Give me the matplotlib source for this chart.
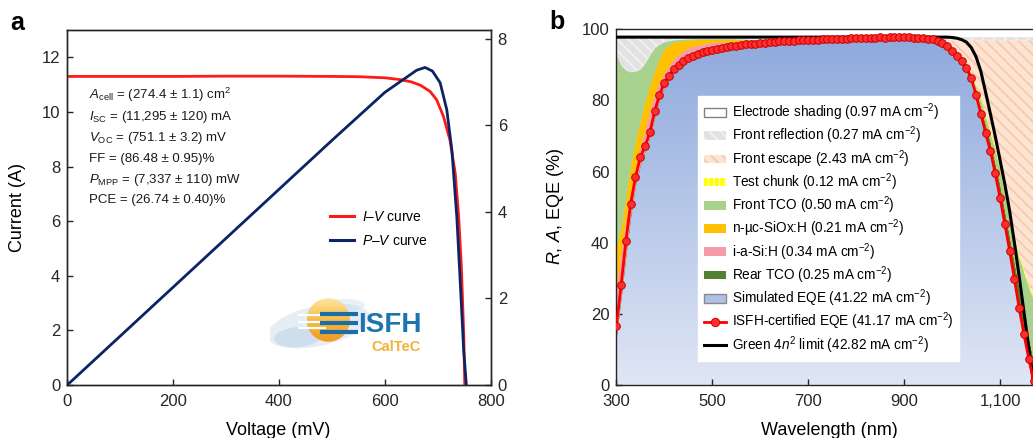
import numpy as np
import matplotlib
matplotlib.use('Agg')
import matplotlib.pyplot as plt
from matplotlib.patches import Patch, Circle, Ellipse
from matplotlib.lines import Line2D
from matplotlib.colors import LinearSegmentedColormap

plt.rcParams['font.family'] = ['Liberation Sans', 'DejaVu Sans']
plt.rcParams['mathtext.fontset'] = 'custom'
plt.rcParams['mathtext.rm'] = 'Liberation Sans'
plt.rcParams['mathtext.it'] = 'Liberation Sans:italic'
plt.rcParams['mathtext.bf'] = 'Liberation Sans:bold'
plt.rcParams['hatch.linewidth'] = 1.2

# ---------------- panel a data ----------------
iv_v = [0, 100, 200, 300, 400, 500, 550, 600, 630, 650, 667, 680, 686, 698, 711, 723, 733, 739.5, 744.6, 749, 751]
iv_i = [11.30, 11.30, 11.30, 11.31, 11.31, 11.30, 11.29, 11.25, 11.18, 11.10, 10.98, 10.82, 10.74, 10.44,
        9.82, 8.97, 7.75, 6.16, 4.33, 1.89, 0.0]
pv_v = [0, 100, 200, 300, 400, 500, 600, 640, 660, 676, 690, 704.5, 717, 726.6, 736, 742.6, 749, 754]
pv_p = [0, 1.13, 2.26, 3.39, 4.52, 5.65, 6.76, 7.10, 7.27, 7.335, 7.25, 6.98, 6.36, 5.43, 3.88, 2.34, 0.79, 0.0]
params_text = [r'$A_{\rm cell}$ = (274.4 ± 1.1) cm$^2$',
               r'$I_{\rm SC}$ = (11,295 ± 120) mA',
               r'$V_{\rm OC}$ = (751.1 ± 3.2) mV',
               'FF = (86.48 ± 0.95)%',
               r'$P_{\rm MPP}$ = (7,337 ± 110) mW',
               'PCE = (26.74 ± 0.40)%']

# ---------------- panel b data ----------------
wl_s = [300, 310, 320, 330, 340, 350, 360, 370, 380, 390, 400, 420, 440, 460, 500, 600, 700, 800, 900, 950,
        980, 1000, 1020, 1040, 1060, 1080, 1100, 1120, 1140, 1160, 1170]
sim_eqe = [14.0, 25.0, 37.0, 48.0, 56.5, 62.0, 66.0, 70.0, 75.5, 80.5, 84.0, 88.3, 90.6, 92.2, 94.0, 95.8, 96.6,
           97.0, 97.2, 96.9, 95.7, 93.6, 90.6, 85.8, 75.8, 65.3, 52.2, 37.3, 21.1, 7.0, 1.0]
rear_tco = [0, 0, 0, 0, 0, 0, 0, 0, 0, 0, 0, 0, 0, 0, 0, 0, 0, 0, 0, 0,
            0.1, 0.2, 0.4, 0.8, 2.5, 3.2, 4.3, 4.7, 6.4, 6.5, 6.0]
i_asi = [13.0, 12.5, 10.0, 6.5, 5.0, 5.0, 6.0, 7.5, 6.5, 5.0, 3.8, 3.5, 3.4, 3.1, 2.4, 0.9, 0.4, 0.15, 0.05, 0,
         0, 0, 0, 0, 0, 0, 0, 0, 0, 0, 0]
n_sio = [12.0, 7.0, 6.0, 7.5, 7.5, 7.5, 8.0, 7.0, 6.5, 6.5, 6.8, 4.7, 2.9, 1.8, 0.85, 0.3, 0.15, 0.05, 0, 0,
         0, 0, 0, 0, 0, 0, 0, 0, 0, 0, 0]
front_tco = [53.8, 45.5, 35.5, 26.0, 19.2, 14.3, 10.5, 8.3, 6.3, 3.8, 1.9, 0.5, 0.3, 0.2, 0.15, 0.1, 0.1, 0.1,
             0.1, 0.2, 0.2, 0.4, 0.6, 1.0, 2.2, 2.5, 4.5, 5.5, 8.5, 14.0, 17.0]
test_chunk = [0, 0, 0, 0, 0, 0, 0, 0, 0, 0, 0, 0, 0, 0, 0, 0, 0, 0, 0, 0,
              0.2, 0.4, 0.5, 0.6, 0.7, 0.8, 0.8, 0.8, 0.8, 0.8, 0.8]
front_escape = [0, 0, 0, 0, 0, 0, 0, 0, 0, 0, 0, 0, 0, 0, 0, 0, 0.05, 0.1, 0.1, 0.2,
                0.7, 2.3, 4.8, 8.7, 15.7, 25.1, 35.1, 48.6, 60.1, 68.6, 72.1]
front_refl = [5.0, 7.8, 9.3, 9.8, 9.6, 9.0, 7.3, 5.0, 3.0, 2.0, 1.3, 0.8, 0.6, 0.5, 0.4, 0.7, 0.5, 0.4, 0.35, 0.5,
              0.9, 0.9, 0.9, 0.9, 0.9, 0.9, 0.9, 0.9, 0.9, 0.9, 0.9]
shading = [2.2] * 31

wl_g = [300, 400, 600, 800, 990, 1000, 1010, 1020, 1030, 1040, 1050, 1060, 1070, 1080, 1090, 1100, 1110, 1120,
        1130, 1140, 1150, 1160, 1170]
green_lim = [97.8, 97.8, 97.8, 97.8, 97.8, 97.7, 97.5, 97.1, 96.4, 94.9, 92.3, 88.2, 82.3, 76.2, 70.0, 63.3, 56.5,
             49.0, 40.0, 30.5, 20.5, 10.5, 0.5]

wl_eqe = list(range(300, 1171, 10))
eqe_isfh = [16.5, 28.0, 40.5, 51.0, 58.5, 64.0, 67.2, 71.0, 77.0, 81.5, 85.0, 87.0, 88.8, 90.0, 91.0, 91.8, 92.5,
            93.1, 93.6, 94.0, 94.3, 94.6, 94.8, 95.0, 95.2, 95.4, 95.6, 95.8, 95.9, 96.0, 96.1, 96.2, 96.3, 96.5,
            96.6, 96.7, 96.8, 96.8, 96.9, 97.0, 97.1, 97.0, 97.1, 97.2, 97.3, 97.3, 97.3, 97.4, 97.4, 97.5, 97.5,
            97.5, 97.6, 97.6, 97.6, 97.7, 97.6, 97.7, 97.8, 97.7, 97.7, 97.7, 97.6, 97.6, 97.5, 97.4, 97.2, 96.8,
            96.1, 95.3, 94.0, 92.5, 91.0, 89.2, 86.3, 81.6, 76.3, 70.8, 65.8, 59.5, 52.7, 45.3, 37.8, 29.8, 21.6,
            14.2, 7.4, 1.2]

legend_labels = [r'Electrode shading (0.97 mA cm$^{-2}$)',
                 r'Front reflection (0.27 mA cm$^{-2}$)',
                 r'Front escape (2.43 mA cm$^{-2}$)',
                 r'Test chunk (0.12 mA cm$^{-2}$)',
                 r'Front TCO (0.50 mA cm$^{-2}$)',
                 r'n-µc-SiOx:H (0.21 mA cm$^{-2}$)',
                 r'i-a-Si:H (0.34 mA cm$^{-2}$)',
                 r'Rear TCO (0.25 mA cm$^{-2}$)',
                 r'Simulated EQE (41.22 mA cm$^{-2}$)',
                 r'ISFH-certified EQE (41.17 mA cm$^{-2}$)',
                 r'Green 4$n^2$ limit (42.82 mA cm$^{-2}$)']

# ---------------- figure ----------------
W, H = 1033, 438
fig = plt.figure(figsize=(W / 100, H / 100), dpi=100)


def px_axes(x0, y0, x1, y1):
    return fig.add_axes([x0 / W, 1 - y1 / H, (x1 - x0) / W, (y1 - y0) / H])


TICK_FS = 12
LAB_FS = 13
spine_c = '#262626'

# ===== panel a =====
axa = px_axes(67.3, 30, 490.7, 385)
axr = axa.twinx()
axa.plot(iv_v, iv_i, color='#ff1a1a', lw=2.0, zorder=3, solid_capstyle='butt')
axr.plot(pv_v, pv_p, color='#0c2466', lw=2.0, zorder=3)
axa.set_xlim(0, 800)
axa.set_ylim(0, 13)
axr.set_ylim(0, 8.2)
axa.set_xticks([0, 200, 400, 600, 800])
axa.set_yticks([0, 2, 4, 6, 8, 10, 12])
axr.set_yticks([0, 2, 4, 6, 8])
for ax in (axa, axr):
    ax.tick_params(direction='in', length=4, width=1, labelsize=TICK_FS, pad=5, colors=spine_c)
    for s in ax.spines.values():
        s.set_linewidth(1.0)
        s.set_color(spine_c)
axa.tick_params(axis='x', pad=6.5)
axa.set_xlabel('Voltage (mV)', fontsize=LAB_FS)
axa.xaxis.set_label_coords(0.498, -0.103)
axa.set_ylabel('Current (A)', fontsize=LAB_FS)
axa.yaxis.set_label_coords(-0.0975, 0.4986)

y0 = (385 - 99) / 355
dy = 20.9 / 355
for k, t in enumerate(params_text):
    axa.text(0.051, y0 - k * dy, t, transform=axa.transAxes, fontsize=9.5, va='baseline', ha='left',
             color='#1a1a1a')

ha = [Line2D([], [], color='#ff1a1a', lw=2.2), Line2D([], [], color='#0c2466', lw=2.2)]
axr.legend(ha, [r'$I$–$V$ curve', r'$P$–$V$ curve'], loc='upper left', bbox_to_anchor=(0.6205, 0.4935),
           frameon=False, borderpad=0, borderaxespad=0, handlelength=1.75, handletextpad=0.55,
           labelspacing=0.7, fontsize=10)

# logo (decorative)
lg = px_axes(270, 290, 430, 360)
lg.axis('off')
lg.add_patch(Ellipse((318, 326), 104, 40, angle=-12, color='#a9c5e0', alpha=0.3, lw=0))
lg.add_patch(Ellipse((298, 337), 48, 20, angle=-5, color='#9dbddb', alpha=0.3, lw=0))
lg.add_patch(Ellipse((345, 305), 40, 12, angle=0, color='#b9d1e8', alpha=0.3, lw=0))
sun = Circle((328.3, 320), 21.7, facecolor='none', edgecolor='none')
lg.add_patch(sun)
sun_cmap = LinearSegmentedColormap.from_list('sun', ['#fde6a2', '#f7bb45', '#ee9a22'])
simg = lg.imshow(np.linspace(0, 1, 64).reshape(-1, 1), extent=(306.6, 350, 341.7, 298.3), cmap=sun_cmap,
                 aspect='auto', zorder=2)
simg.set_clip_path(sun)
for yy in (315, 321.7, 328.3):
    lg.plot([298, 326], [yy, yy], color='white', lw=1.6, zorder=3, solid_capstyle='butt')
for yy in (314.3, 323.3, 332.3):
    lg.plot([320, 358], [yy, yy], color='#1f6da6', lw=3.0, zorder=4, solid_capstyle='butt')
lg.text(358, 325, 'ISFH', fontsize=20, fontweight='bold', color='#1b76b0', ha='left', va='center', zorder=5)
lg.text(371, 347, 'CalTeC', fontsize=10.5, fontweight='bold', color='#f4b13a', ha='left', va='center', zorder=5)
lg.set_xlim(270, 430)
lg.set_ylim(360, 290)

# ===== panel b =====
axb = px_axes(616.3, 29.3, 1033, 385)
layers = np.vstack([sim_eqe, rear_tco, i_asi, n_sio, front_tco, test_chunk, front_escape, front_refl, shading])
tops = np.cumsum(layers, axis=0)
bots = np.vstack([np.zeros(len(wl_s)), tops[:-1]])

esc_style = dict(facecolor='#fde3d2', edgecolor='#f7c8aa', hatch='\\\\\\', lw=0)
refl_style = dict(facecolor='#e2e2e2', edgecolor='#f2f2f2', hatch='\\\\\\', lw=0)
test_style = dict(facecolor='#ffff00', edgecolor='#ffffa8', hatch='|||', lw=0)
styles = [
    None,
    dict(facecolor='#548235', edgecolor='#548235', lw=0.3),
    dict(facecolor='#f49ca8', edgecolor='#f49ca8', lw=0.3),
    dict(facecolor='#ffc000', edgecolor='#ffc000', lw=0.3),
    dict(facecolor='#a9d18e', edgecolor='#a9d18e', lw=0.3),
    test_style,
    esc_style,
    refl_style,
    dict(facecolor='white', edgecolor='white', lw=0),
]

eqe_cmap = LinearSegmentedColormap.from_list('eqe', ['#e0e6f5', '#8ca8dc'])
grad = axb.imshow(np.linspace(0, 1, 256).reshape(-1, 1), extent=(300, 1170, 0, 100), origin='lower',
                  cmap=eqe_cmap, aspect='auto', zorder=1)
sim_poly = axb.fill_between(wl_s, bots[0], tops[0], facecolor='none', edgecolor='none')
grad.set_clip_path(sim_poly.get_paths()[0], transform=axb.transData)

for k in range(1, len(styles)):
    axb.fill_between(wl_s, bots[k], tops[k], zorder=2, **styles[k])

axb.plot(wl_g, green_lim, color='black', lw=2.2, zorder=4)
axb.plot(wl_eqe, eqe_isfh, color='#ff0000', lw=2.0, marker='o', ms=5.5, mfc='#ff2d2d', mec='#c80000',
         mew=0.7, zorder=5)

axb.set_xlim(300, 1168.8)
axb.set_ylim(0, 100)
axb.set_xticks([300, 500, 700, 900, 1100])
axb.set_xticklabels(['300', '500', '700', '900', '1,100'])
axb.set_yticks([0, 20, 40, 60, 80, 100])
axb.tick_params(direction='in', length=4, width=1, labelsize=TICK_FS, pad=5, colors=spine_c)
axb.tick_params(axis='x', pad=6.5)
for name, s in axb.spines.items():
    s.set_linewidth(1.0)
    s.set_color(spine_c)
axb.spines['right'].set_visible(False)
axb.set_xlabel('Wavelength (nm)', fontsize=LAB_FS)
axb.xaxis.set_label_coords(0.511, -0.103)
axb.set_ylabel(r'$R$, $A$, EQE (%)', fontsize=LAB_FS)
axb.yaxis.set_label_coords(-0.1207, 0.501)

hb = [Patch(facecolor='white', edgecolor='#808080', lw=1.0),
      Patch(**refl_style),
      Patch(**esc_style),
      Patch(**test_style),
      Patch(facecolor='#a9d18e', edgecolor='none'),
      Patch(facecolor='#ffc000', edgecolor='none'),
      Patch(facecolor='#f49ca8', edgecolor='none'),
      Patch(facecolor='#548235', edgecolor='none'),
      Patch(facecolor='#adc0e6', edgecolor='#8a8a8a', lw=1.0),
      Line2D([], [], color='#ff0000', lw=2.0, marker='o', ms=6, mfc='#ff2d2d', mec='#c80000', mew=0.7),
      Line2D([], [], color='black', lw=2.2)]
leg = axb.legend(hb, legend_labels, loc='upper left', bbox_to_anchor=(0.197, 0.812), borderaxespad=0,
                 frameon=True, facecolor='white', edgecolor='white', framealpha=1, fancybox=False,
                 borderpad=0.4, handlelength=1.65, handleheight=0.6, handletextpad=0.45, labelspacing=0.12,
                 fontsize=9.8)
leg.set_zorder(6)

fig.text(10 / W, 1 - 30 / H, 'a', fontsize=18, fontweight='bold', va='baseline', ha='left')
fig.text(549.3 / W, 1 - 29.3 / H, 'b', fontsize=18, fontweight='bold', va='baseline', ha='left')

fig.savefig('out.png', dpi=100)
